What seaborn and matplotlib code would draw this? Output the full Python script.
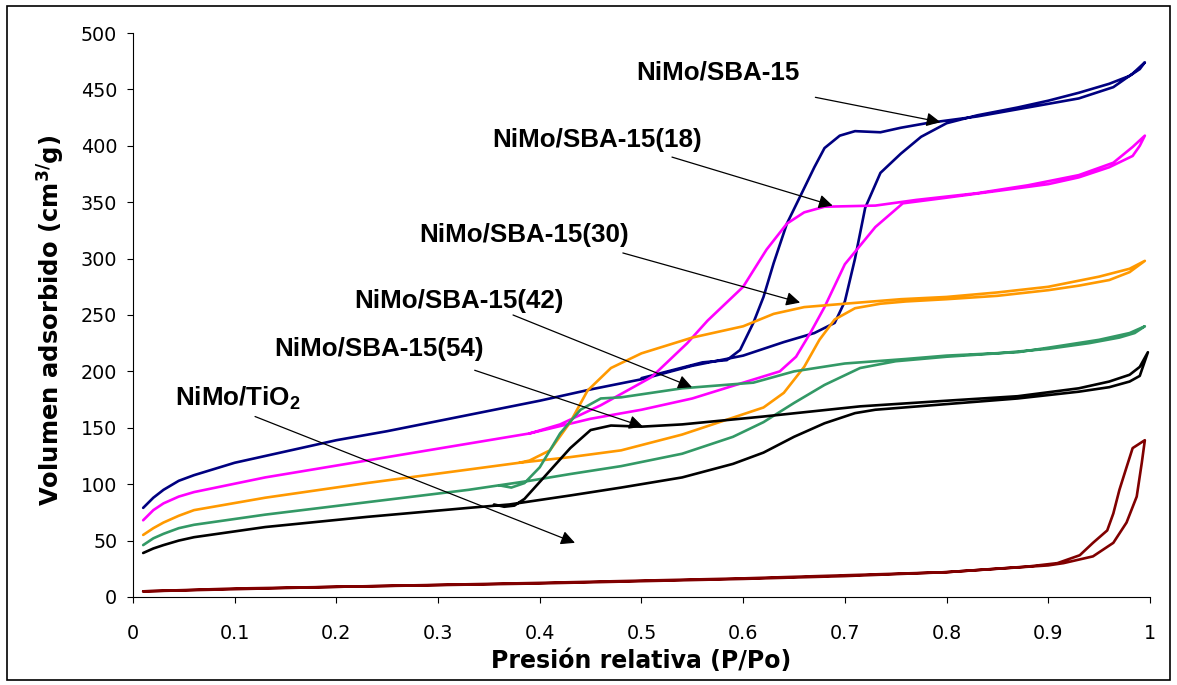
import numpy as np
import pandas as pd
import matplotlib
matplotlib.use("Agg")
import matplotlib.pyplot as plt
from matplotlib.patches import Rectangle
import seaborn as sns

# ---------------- data ----------------
sba_ads_x = [0.01, 0.02, 0.03, 0.045, 0.06, 0.1, 0.15, 0.2, 0.25, 0.3, 0.35, 0.4, 0.45, 0.5, 0.55, 0.6, 0.64, 0.67,
             0.69, 0.70, 0.71, 0.72, 0.735, 0.755, 0.775, 0.80, 0.83, 0.87, 0.9, 0.93, 0.96, 0.98, 0.99, 0.995]
sba_ads_y = [79, 88, 95, 103, 108, 119, 129, 139, 147, 156, 165, 174, 184, 193, 205, 214, 226, 234,
             243, 262, 300, 345, 376, 393, 408, 420, 427, 434, 440, 447, 455, 462, 468, 474]
sba_des_x = [0.995, 0.983, 0.964, 0.93, 0.88, 0.83, 0.78, 0.755, 0.735, 0.71, 0.695, 0.68, 0.67, 0.656, 0.643,
             0.63, 0.62, 0.61, 0.597, 0.584, 0.56, 0.5]
sba_des_y = [474, 464, 452, 442, 434, 426, 420, 416, 412, 413, 409, 398, 381, 355, 331,
             296, 266, 243, 219, 210, 208, 194]

s18_ads_x = [0.01, 0.02, 0.03, 0.045, 0.06, 0.13, 0.23, 0.33, 0.39, 0.45, 0.5, 0.55, 0.6, 0.636, 0.652, 0.666, 0.68,
             0.70, 0.73, 0.757, 0.8, 0.85, 0.9, 0.93, 0.96, 0.983, 0.99, 0.995]
s18_ads_y = [68, 77, 83, 89, 93, 106, 121, 136, 145, 158, 166, 176, 190, 200, 213, 234, 257,
             295, 328, 349, 354, 360, 366, 372, 381, 391, 400, 409]
s18_des_x = [0.995, 0.983, 0.964, 0.93, 0.88, 0.83, 0.77, 0.73, 0.68, 0.66, 0.643, 0.623, 0.6, 0.565,
             0.545, 0.51, 0.46, 0.42, 0.39]
s18_des_y = [409, 399, 385, 374, 365, 358, 352, 347, 346, 341, 331, 308, 275, 245,
             225, 195, 170, 153, 145]

s30_ads_x = [0.01, 0.02, 0.03, 0.045, 0.06, 0.13, 0.23, 0.33, 0.38, 0.43, 0.48, 0.54, 0.59, 0.62, 0.64, 0.66, 0.675,
             0.69, 0.71, 0.735, 0.76, 0.8, 0.85, 0.9, 0.93, 0.96, 0.98, 0.995]
s30_ads_y = [55, 61, 66, 72, 77, 88, 101, 113, 119, 124, 130, 144, 159, 168, 181, 204, 228,
             246, 256, 260, 262, 264, 267, 272, 276, 281, 288, 298]
s30_des_x = [0.995, 0.98, 0.95, 0.9, 0.85, 0.8, 0.755, 0.7, 0.66, 0.63, 0.6, 0.55, 0.5, 0.47, 0.447,
             0.43, 0.41, 0.39, 0.38]
s30_des_y = [298, 291, 284, 275, 270, 266, 264, 260, 257, 251, 240, 230, 216, 203, 183,
             155, 130, 121, 119]

s42_ads_x = [0.01, 0.02, 0.03, 0.045, 0.06, 0.13, 0.23, 0.33, 0.36, 0.39, 0.43, 0.48, 0.54, 0.59, 0.62, 0.65, 0.68,
             0.715, 0.75, 0.8, 0.85, 0.9, 0.94, 0.97, 0.985, 0.995]
s42_ads_y = [46, 52, 56, 61, 64, 73, 84, 95, 99, 103, 109, 116, 127, 142, 155, 172, 188,
             203, 209, 213, 216, 220, 225, 230, 234, 240]
s42_des_x = [0.995, 0.98, 0.95, 0.9, 0.87, 0.8, 0.76, 0.7, 0.65, 0.61, 0.54, 0.48, 0.46, 0.44, 0.42,
             0.40, 0.385, 0.372, 0.36]
s42_des_y = [240, 234, 228, 221, 217, 214, 211, 207, 200, 190, 185, 177, 176, 166, 145,
             115, 101, 97, 99]

s54_ads_x = [0.01, 0.02, 0.03, 0.045, 0.06, 0.13, 0.23, 0.33, 0.37, 0.43, 0.48, 0.54, 0.59, 0.62, 0.65, 0.68, 0.71,
             0.73, 0.8, 0.87, 0.93, 0.96, 0.98, 0.99, 0.998]
s54_ads_y = [39, 43, 46, 50, 53, 62, 71, 79, 82, 90, 97, 106, 118, 128, 142, 154, 163,
             166, 171, 176, 182, 186, 191, 196, 217]
s54_des_x = [0.998, 0.99, 0.98, 0.96, 0.93, 0.87, 0.8, 0.715, 0.62, 0.54, 0.5, 0.47, 0.45, 0.43,
             0.41, 0.385, 0.375, 0.365, 0.355]
s54_des_y = [217, 204, 197, 191, 185, 178, 174, 169, 160, 153, 151, 152, 148, 132,
             112, 87, 81, 80, 82]

ti_ads_x = [0.01, 0.1, 0.2, 0.3, 0.4, 0.5, 0.6, 0.7, 0.8, 0.85, 0.9, 0.915, 0.944, 0.964, 0.977,
            0.987, 0.992, 0.995]
ti_ads_y = [5, 7.5, 9, 10.5, 12, 14, 16, 18.5, 22, 25, 28, 30, 36, 48, 66,
            89, 119, 139]
ti_des_x = [0.995, 0.983, 0.977, 0.97, 0.964, 0.958, 0.944, 0.931, 0.909, 0.88, 0.8, 0.6, 0.4, 0.2, 0.01]
ti_des_y = [139, 132, 115, 95, 74, 59, 48, 37, 30, 27, 22, 16.5, 12.5, 9, 5]

series_names = ["NiMo/SBA-15", "NiMo/SBA-15(18)", "NiMo/SBA-15(30)",
                "NiMo/SBA-15(42)", "NiMo/SBA-15(54)", "NiMo/TiO$_2$"]
series_colors = ["#000080", "#FF00FF", "#FF9900", "#339966", "#000000", "#800000"]

x_ticks = [0, 0.1, 0.2, 0.3, 0.4, 0.5, 0.6, 0.7, 0.8, 0.9, 1]
x_tick_labels = ["0", "0.1", "0.2", "0.3", "0.4", "0.5", "0.6", "0.7", "0.8", "0.9", "1"]
y_ticks = [0, 50, 100, 150, 200, 250, 300, 350, 400, 450, 500]

# label text positions and arrow (start -> end) in data coordinates
label_pos = [(0.575, 465), (0.456, 405), (0.385, 321), (0.3205, 262), (0.242, 220), (0.103, 176)]
arrow_start = [(0.671, 443), (0.530, 390), (0.4817, 305), (0.3737, 250), (0.336, 201), (0.120, 160)]
arrow_end = [(0.794, 421), (0.688, 347), (0.656, 261), (0.5497, 186), (0.5015, 151), (0.4346, 48)]

# ---------------- figure ----------------
sns.set_style("ticks")
plt.rcParams["font.family"] = ["Liberation Sans", "DejaVu Sans"]
plt.rcParams["text.color"] = "black"
plt.rcParams["axes.labelcolor"] = "black"
plt.rcParams["mathtext.fontset"] = "custom"
plt.rcParams["mathtext.rm"] = "Liberation Sans"
plt.rcParams["mathtext.bf"] = "Liberation Sans:bold"
plt.rcParams["mathtext.sf"] = "DejaVu Sans:bold"
plt.rcParams["mathtext.default"] = "bf"

fig = plt.figure(figsize=(11.77, 6.85), dpi=100)
ax = fig.add_axes([0.113, 0.1285, 0.864, 0.8233])

branches = [
    (sba_ads_x, sba_ads_y, sba_des_x, sba_des_y),
    (s18_ads_x, s18_ads_y, s18_des_x, s18_des_y),
    (s30_ads_x, s30_ads_y, s30_des_x, s30_des_y),
    (s42_ads_x, s42_ads_y, s42_des_x, s42_des_y),
    (s54_ads_x, s54_ads_y, s54_des_x, s54_des_y),
    (ti_ads_x, ti_ads_y, ti_des_x, ti_des_y),
]

for name, color, (ax_, ay_, dx_, dy_) in zip(series_names, series_colors, branches):
    df = pd.DataFrame({"p": list(ax_) + list(dx_), "v": list(ay_) + list(dy_)})
    sns.lineplot(data=df, x="p", y="v", sort=False, estimator=None, color=color,
                 linewidth=1.9, ax=ax, legend=False)

for name, lp, st, en in zip(series_names, label_pos, arrow_start, arrow_end):
    ax.text(lp[0], lp[1], name, ha="center", va="center", fontsize=18.7,
            fontweight="bold", color="black")
    ax.annotate("", xy=en, xytext=st,
                arrowprops=dict(arrowstyle="-|>", color="black", lw=0.9,
                                mutation_scale=21, shrinkA=0, shrinkB=0))

ax.set_xlim(0, 1)
ax.set_ylim(0, 500)
ax.set_xticks(x_ticks)
ax.set_xticklabels(x_tick_labels)
ax.set_yticks(y_ticks)
ax.tick_params(axis="both", direction="out", length=4.3, width=0.8, color="black",
               labelsize=13.8, labelcolor="black")
for lab in ax.get_xticklabels() + ax.get_yticklabels():
    lab.set_fontfamily("DejaVu Sans")
ax.tick_params(axis="x", pad=15)
ax.tick_params(axis="y", pad=7)
for side in ["top", "right"]:
    ax.spines[side].set_visible(False)
for side in ["left", "bottom"]:
    ax.spines[side].set_color("black")
    ax.spines[side].set_linewidth(0.8)

ax.set_xlabel("Presión relativa (P/Po)", fontsize=17, fontweight="bold",
              family="DejaVu Sans", color="black")
ax.set_ylabel(r"Volumen adsorbido (cm$^{\mathsf{3/}}$g)", fontsize=17.5, fontweight="bold",
              family="DejaVu Sans", color="black")
ax.xaxis.set_label_coords(0.5, -0.092)
ax.yaxis.set_label_coords(-0.066, 0.49)

fig.patches.append(Rectangle((0.006, 0.008), 0.988, 0.983, transform=fig.transFigure,
                             fill=False, edgecolor="black", linewidth=1.2))

fig.savefig("out.png", dpi=100)
